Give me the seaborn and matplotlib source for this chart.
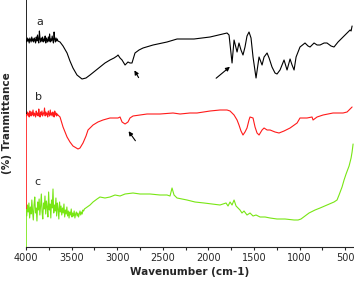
import numpy as np
import seaborn as sns
import matplotlib.pyplot as plt

# FTIR spectra, transmittance in arbitrary units (curves offset vertically)
# noisy high-wavenumber part shared grid for a and b
wn_head = [4000, 3993, 3986, 3979, 3972, 3965, 3958, 3951, 3944, 3937,
           3930, 3923, 3916, 3909, 3902, 3895, 3888, 3881, 3874, 3867,
           3860, 3853, 3846, 3839, 3832, 3825, 3818, 3811, 3804, 3797,
           3790, 3783, 3776, 3769, 3762, 3755, 3748, 3741, 3734, 3727,
           3720, 3713, 3706, 3699, 3692, 3685, 3678, 3671, 3664, 3657, 3650]

wn_a = wn_head + [
    3627, 3594, 3550, 3518, 3485, 3441, 3386, 3342, 3298, 3243, 3189, 3134, 3079,
    3035, 3002, 2991, 2969, 2947, 2914, 2882, 2860, 2838, 2805, 2761, 2717, 2607,
    2454, 2344, 2158, 1982, 1796, 1774, 1741, 1719, 1697, 1686, 1665, 1643, 1621,
    1599, 1577, 1555, 1533, 1511, 1478, 1445, 1412, 1390, 1357, 1335, 1303, 1270,
    1248, 1215, 1171, 1138, 1105, 1083, 1061, 1039, 996, 941, 908, 886, 842, 809,
    776, 732, 700, 656, 623, 579, 557, 513, 480, 447, 436, 425]
t_a = [207, 205, 209, 206, 208, 204, 209, 207, 205, 210,
       206, 208, 205, 209, 207, 204, 210, 206, 212, 207,
       204, 216, 208, 205, 209, 206, 210, 205, 208, 206,
       211, 204, 209, 207, 205, 210, 206, 213, 205, 208,
       206, 211, 207, 204, 215, 208, 205, 209, 206, 208, 206,
       205, 201, 194, 186, 179, 172, 168, 169, 172, 176, 180, 184, 187,
       189, 191, 192, 189, 187, 182, 185, 184, 184, 194, 197, 199, 202,
       205, 208, 208, 210, 214, 212, 184, 207, 199, 195, 204, 197, 192,
       200, 211, 215, 209, 190, 169, 190, 182, 190, 194, 189, 180, 174,
       173, 177, 187, 177, 188, 182, 177, 190, 200, 204, 201, 200, 204, 202,
       202, 204, 204, 201, 200, 205, 207, 211, 214, 217, 216, 221]

wn_b = wn_head + [
    3627, 3594, 3550, 3518, 3485, 3430, 3408, 3375, 3342, 3320, 3265, 3211, 3156,
    3079, 2991, 2969, 2947, 2914, 2882, 2860, 2827, 2750, 2673, 2531, 2388, 2311,
    2202, 2125, 1982, 1873, 1796, 1763, 1719, 1686, 1665, 1643, 1621, 1599, 1577,
    1555, 1544, 1511, 1489, 1467, 1445, 1412, 1390, 1357, 1324, 1270, 1226, 1171,
    1105, 1028, 996, 919, 864, 853, 809, 743, 634, 524, 480, 447, 425]
t_b = [133, 131, 135, 132, 134, 130, 136, 133, 131, 135,
       132, 137, 131, 134, 133, 130, 136, 132, 134, 131,
       138, 133, 130, 135, 132, 136, 131, 134, 133, 139,
       131, 135, 132, 134, 130, 136, 133, 131, 137, 132,
       134, 131, 135, 133, 130, 136, 132, 134, 131, 133, 132,
       130, 120, 110, 105, 101, 98, 99, 104, 111, 117, 122, 125, 127,
       129, 129, 130, 125, 123, 125, 129, 131, 132, 133, 133, 134, 133,
       134, 134, 136, 137, 137, 136, 132, 127, 122, 116, 112, 115, 119,
       127, 130, 129, 120, 114, 112, 117, 119, 117, 117, 115, 114, 116,
       119, 124, 129, 129, 130, 127, 130, 132, 134, 134, 135, 138, 140]

wn_c = [4000, 3992, 3984, 3976, 3968, 3960, 3952, 3944, 3936, 3928,
        3920, 3912, 3904, 3896, 3888, 3880, 3872, 3864, 3856, 3848,
        3840, 3832, 3824, 3816, 3808, 3800, 3792, 3784, 3776, 3768,
        3760, 3752, 3744, 3736, 3728, 3720, 3712, 3704, 3696, 3688,
        3680, 3672, 3664, 3656, 3648, 3640, 3632, 3624, 3616, 3608,
        3600, 3592, 3584, 3576, 3568, 3560, 3552, 3544, 3536, 3528,
        3520, 3512, 3504, 3496, 3488, 3480, 3472, 3464, 3456, 3448,
        3440, 3432, 3424, 3416, 3408, 3400, 3392, 3384, 3376, 3368, 3360,
        3298, 3265, 3221, 3189, 3134, 3079, 3024, 2969, 2914, 2827, 2750, 2640, 2531,
        2454, 2421, 2399, 2377, 2344, 2235, 2147, 2048, 1961, 1873, 1807, 1785, 1763,
        1741, 1719, 1697, 1675, 1654, 1632, 1610, 1577, 1544, 1511, 1478, 1434, 1379,
        1324, 1248, 1160, 1061, 1017, 985, 941, 897, 831, 776, 700, 623, 590, 568, 535,
        513, 491, 458, 436, 425, 414]
t_c = [38, 31, 42, 35, 44, 29, 40, 33, 47, 36,
       27, 42, 50, 34, 39, 26, 45, 37, 48, 32,
       41, 53, 35, 28, 44, 38, 51, 33, 46, 40,
       30, 55, 37, 43, 29, 47, 39, 58, 34, 42,
       36, 49, 31, 44, 38, 28, 45, 35, 41, 32,
       39, 34, 43, 30, 37, 33, 40, 31, 36, 29,
       35, 32, 38, 30, 34, 31, 36, 29, 33, 35,
       31, 34, 30, 33, 36, 32, 35, 33, 37, 36, 38,
       42, 45, 48, 50, 49, 50, 52, 51, 53, 54, 53, 53, 52,
       52, 51, 59, 52, 49, 47, 45, 44, 43, 42, 44, 41, 45,
       42, 47, 41, 39, 37, 34, 36, 32, 34, 31, 32, 30, 30,
       29, 28, 28, 27, 27, 28, 31, 34, 37, 39, 42, 45, 47, 52, 60,
       67, 73, 81, 89, 95, 103]

curve_names = ["a", "b", "c"]
curve_colors = ["black", "#ff1a1a", "#78e614"]

sns.set_style("ticks")
fig = plt.figure(figsize=(3.54, 2.89), dpi=100)
ax = fig.add_axes([26 / 354, 42 / 289, 328 / 354, 247 / 289])

for wn, t, col in zip([wn_a, wn_b, wn_c], [t_a, t_b, t_c], curve_colors):
    sns.lineplot(x=wn, y=t, color=col, lw=0.8, sort=False, estimator=None, ax=ax)

ax.set_xlim(4000, 404)
ax.set_ylim(0, 247)

# left axis drawn as coloured drops at 4000
ax.vlines(4000, t_b[0], 247, color=curve_colors[0], lw=1.2)
ax.vlines(4000, t_c[0], t_b[0], color=curve_colors[1], lw=1.2)
ax.vlines(4000, 0, t_c[0], color=curve_colors[2], lw=1.2)

# curve labels
ax.text(3846, 225, "a", fontsize=8, ha="center", va="center")
ax.text(3868, 150, "b", fontsize=8, ha="center", va="center")
ax.text(3879, 65, "c", fontsize=8, ha="center", va="center")

arr = dict(arrowstyle="-|>", color="black", lw=0.8, mutation_scale=6)
ax.annotate("", xy=(2827, 179), xytext=(2750, 167), arrowprops=arr)
ax.annotate("", xy=(1741, 182), xytext=(1939, 167), arrowprops=arr)
ax.annotate("", xy=(2893, 118), xytext=(2783, 104), arrowprops=arr)

ax.set_xticks([4000, 3500, 3000, 2500, 2000, 1500, 1000, 500])
ax.set_xticks([3750, 3250, 2750, 2250, 1750, 1250, 750], minor=True)
ax.tick_params(axis="x", which="both", direction="out", length=2.5, width=0.8,
               labelsize=7, pad=2)
ax.set_yticks([])
sns.despine(ax=ax, left=True)
ax.spines["bottom"].set_linewidth(0.8)

ax.set_xlabel("Wavenumber (cm-1)", fontsize=7.5, fontweight="bold", labelpad=3)
ax.set_ylabel("(%) Tranmittance", fontsize=7.5, fontweight="bold", labelpad=10)

fig.savefig("out.png", dpi=100)
